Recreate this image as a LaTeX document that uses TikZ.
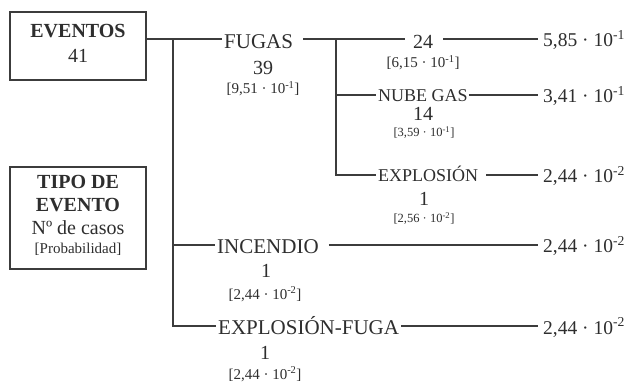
\documentclass[tikz,border=0pt]{standalone}
\usepackage{fontspec}
\setmainfont{Liberation Serif}
\definecolor{ink}{HTML}{2E2E2E}
\definecolor{wire}{HTML}{3C3C3C}
\tikzset{
  lab/.style={inner sep=0pt, text=ink, font=\fontsize{21}{24}\selectfont},
  sublab/.style={inner sep=0pt, text=ink, font=\fontsize{18}{21}\selectfont},
  num/.style={inner sep=0pt, text=ink, font=\fontsize{20}{23}\selectfont},
  prob/.style={inner sep=0pt, text=ink, font=\fontsize{15}{17}\selectfont},
  probs/.style={inner sep=0pt, text=ink, font=\fontsize{12.5}{14}\selectfont},
  val/.style={inner sep=0pt, text=ink, font=\fontsize{19.5}{22}\selectfont},
  bold/.style={inner sep=0pt, text=ink, font=\fontsize{20}{23}\selectfont\bfseries},
  frame/.style={draw=wire, line width=2pt, inner sep=0pt},
  wirel/.style={draw=wire, line width=2pt}
}
\begin{document}
\begin{tikzpicture}[x=1pt,y=-1pt]
\useasboundingbox[fill=white] (0,0) rectangle (624,382);
% legend boxes
\node[frame, minimum width=136pt, minimum height=68pt] (evbox) at (78,46) {};
\node[bold, anchor=base] (evtitle) at (78,38) {EVENTOS};
\node[num, anchor=base] (evnum) at (78,63) {41};
\node[frame, minimum width=136pt, minimum height=102pt] (tipobox) at (78,218) {};
\node[bold, anchor=base] (tipo1) at (78,189) {TIPO DE};
\node[bold, anchor=base] (tipo2) at (78,212) {EVENTO};
\node[num, anchor=base] (tipo3) at (78,235) {Nº de casos};
\node[prob, anchor=base] (tipo4) at (78,254) {[Probabilidad]};
% row coordinates
\coordinate (r1) at (0,39);
\coordinate (r2) at (0,95);
\coordinate (r3) at (0,175);
\coordinate (r4) at (0,245);
\coordinate (r5) at (0,326);
\coordinate (t1) at (173,39);
\coordinate (t2) at (336,39);
% first level
\node[lab, anchor=base west] (fugas) at (224,49) {FUGAS};
\node[num, anchor=base] (fugasn) at (263,75) {39};
\node[prob, anchor=base] (fugasp) at (263,94) {[9,51 · 10\textsuperscript{-1}]};
\node[lab, anchor=base west] (inc) at (217,254) {INCENDIO};
\node[num, anchor=base] (incn) at (266,277) {1};
\node[prob, anchor=base] (incp) at (265,299) {[2,44 · 10\textsuperscript{-2}]};
\node[lab, anchor=base west] (ef) at (218,334) {EXPLOSIÓN-FUGA};
\node[num, anchor=base] (efn) at (265,359) {1};
\node[prob, anchor=base] (efp) at (265,379) {[2,44 · 10\textsuperscript{-2}]};
% second level
\node[num, anchor=base] (n24) at (423,49) {24};
\node[prob, anchor=base] (p24) at (423,68) {[6,15 · 10\textsuperscript{-1}]};
\node[sublab, anchor=base west] (nube) at (378,102) {NUBE GAS};
\node[num, anchor=base] (n14) at (423,121) {14};
\node[probs, anchor=base] (p14) at (424,137) {[3,59 · 10\textsuperscript{-1}]};
\node[sublab, anchor=base west] (expl) at (378,182) {EXPLOSIÓN};
\node[num, anchor=base] (n1a) at (424,206) {1};
\node[probs, anchor=base] (p1a) at (424,223) {[2,56 · 10\textsuperscript{-2}]};
% values
\node[val, anchor=base west] (v1) at (543,47) {5,85 · 10\textsuperscript{-1}};
\node[val, anchor=base west] (v2) at (543,103) {3,41 · 10\textsuperscript{-1}};
\node[val, anchor=base west] (v3) at (543,183) {2,44 · 10\textsuperscript{-2}};
\node[val, anchor=base west] (v4) at (543,253) {2,44 · 10\textsuperscript{-2}};
\node[val, anchor=base west] (v5) at (543,334) {2,44 · 10\textsuperscript{-2}};
% connectors
\draw[wirel] (evbox.east |- r1) -- ([xshift=-2pt]fugas.west |- r1);
\draw[wirel] (t1) |- ([xshift=-2pt]ef.west |- r5);
\draw[wirel] (t1 |- r4) -- ([xshift=-2pt]inc.west |- r4);
\draw[wirel] ([xshift=10pt]fugas.east |- r1) -- ([xshift=-8pt]n24.west |- r1);
\draw[wirel] (t2) |- ([xshift=-2pt]expl.west |- r3);
\draw[wirel] (t2 |- r2) -- ([xshift=-2pt]nube.west |- r2);
\draw[wirel] ([xshift=10pt]n24.east |- r1) -- ([xshift=-5pt]v1.west |- r1);
\draw[wirel] ([xshift=1pt]nube.east |- r2) -- ([xshift=-5pt]v2.west |- r2);
\draw[wirel] ([xshift=8pt]expl.east |- r3) -- ([xshift=-5pt]v3.west |- r3);
\draw[wirel] ([xshift=10pt]inc.east |- r4) -- ([xshift=-5pt]v4.west |- r4);
\draw[wirel] ([xshift=2pt]ef.east |- r5) -- ([xshift=-5pt]v5.west |- r5);
\end{tikzpicture}
\end{document}
